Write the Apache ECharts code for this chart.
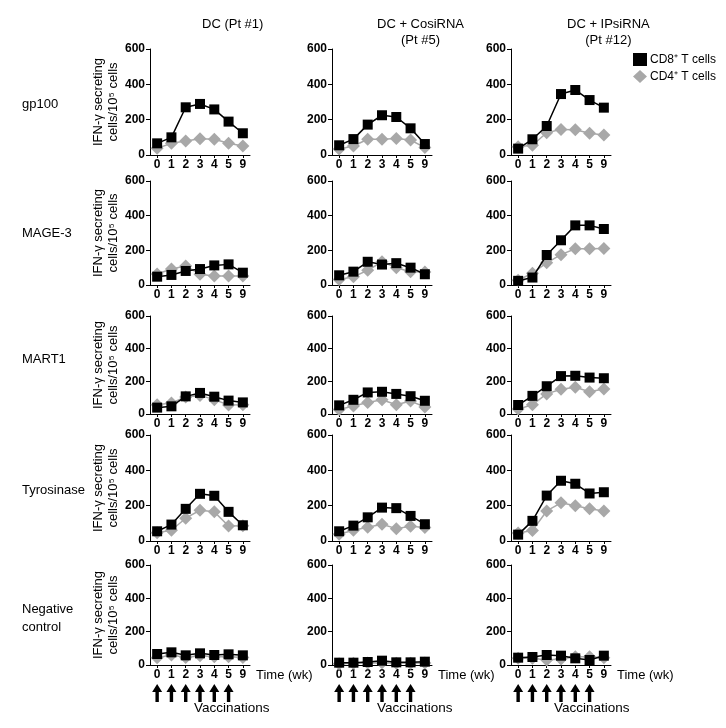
<!DOCTYPE html>
<html><head><meta charset="utf-8">
<script src="https://cdn.jsdelivr.net/npm/echarts@6/dist/echarts.min.js"></script>
<style>html,body{margin:0;padding:0;background:#fff}#c{width:726px;height:728px}</style>
</head><body><div id="c"></div>
<script>
// ---- data ----
const weeks = ['0','1','2','3','4','5','9'];
const vaccinationWeeks = ['0','1','2','3','4','5'];
const antigens = ['gp100','MAGE-3','MART1','Tyrosinase','Negative\ncontrol'];
const groups = ['DC (Pt #1)','DC + CosiRNA\n(Pt #5)','DC + IPsiRNA\n(Pt #12)'];
const yTicks = [0,200,400,600];
const seriesNames = ['CD8\u207A T cells','CD4\u207A T cells'];

// gp100
const gp100_DC_CD8 = [66,100,270,289,258,189,123];
const gp100_DC_CD4 = [38,66,79,92,89,66,51];
const gp100_Cosi_CD8 = [55,90,172,225,215,151,62];
const gp100_Cosi_CD4 = [34,51,89,89,94,85,42];
const gp100_IPsi_CD8 = [36,89,164,345,368,311,268];
const gp100_IPsi_CD4 = [47,55,126,145,143,123,113];
// MAGE-3
const mage3_DC_CD8 = [48,58,81,92,113,119,71];
const mage3_DC_CD4 = [63,92,110,62,52,52,52];
const mage3_Cosi_CD8 = [56,77,134,118,126,100,62];
const mage3_Cosi_CD4 = [32,47,85,134,100,77,75];
const mage3_IPsi_CD8 = [24,43,173,258,344,344,323];
const mage3_IPsi_CD4 = [28,68,128,175,209,209,211];
// MART1
const mart1_DC_CD8 = [39,47,108,129,106,82,71];
const mart1_DC_CD4 = [57,67,104,114,88,55,57];
const mart1_Cosi_CD8 = [53,87,132,136,123,109,81];
const mart1_Cosi_CD4 = [28,49,70,87,57,79,43];
const mart1_IPsi_CD8 = [55,111,170,232,234,223,219];
const mart1_IPsi_CD4 = [30,57,123,151,164,136,153];
// Tyrosinase
const tyr_DC_CD8 = [55,93,182,267,256,165,89];
const tyr_DC_CD4 = [47,61,129,174,165,85,87];
const tyr_Cosi_CD8 = [55,87,134,189,186,142,95];
const tyr_Cosi_CD4 = [38,61,78,95,70,83,76];
const tyr_IPsi_CD8 = [36,114,257,341,324,269,276];
const tyr_IPsi_CD4 = [45,59,170,216,199,182,170];
// Negative control
const neg_DC_CD8 = [66,76,58,70,60,64,58];
const neg_DC_CD4 = [44,60,45,55,50,50,45];
const neg_Cosi_CD8 = [14,14,18,26,16,16,20];
const neg_Cosi_CD4 = [8,10,12,14,10,10,12];
const neg_IPsi_CD8 = [44,48,60,56,40,30,56];
const neg_IPsi_CD4 = [40,40,30,36,50,50,44];

const panelData = [
  [[gp100_DC_CD8,gp100_DC_CD4],[gp100_Cosi_CD8,gp100_Cosi_CD4],[gp100_IPsi_CD8,gp100_IPsi_CD4]],
  [[mage3_DC_CD8,mage3_DC_CD4],[mage3_Cosi_CD8,mage3_Cosi_CD4],[mage3_IPsi_CD8,mage3_IPsi_CD4]],
  [[mart1_DC_CD8,mart1_DC_CD4],[mart1_Cosi_CD8,mart1_Cosi_CD4],[mart1_IPsi_CD8,mart1_IPsi_CD4]],
  [[tyr_DC_CD8,tyr_DC_CD4],[tyr_Cosi_CD8,tyr_Cosi_CD4],[tyr_IPsi_CD8,tyr_IPsi_CD4]],
  [[neg_DC_CD8,neg_DC_CD4],[neg_Cosi_CD8,neg_Cosi_CD4],[neg_IPsi_CD8,neg_IPsi_CD4]]
];

// ---- layout ----
const FONT = "'Liberation Sans', Arial, Helvetica, sans-serif";
const colLeft = [150, 332, 511];
const colW = 100;
const rowTop = [49, 181, 316, 435, 565];
const rowH = [106, 104, 98, 106, 100];
const titleX = [202, 377, 567];
const rowLabelY = [103, 232, 358, 489, 616];

const grid = [], xAxis = [], yAxis = [], series = [];
let gi = 0;
for (let r = 0; r < 5; r++) {
  for (let c = 0; c < 3; c++) {
    grid.push({left: colLeft[c], top: rowTop[r], width: colW, height: rowH[r], containLabel: false});
    const isLast = r === 4;
    xAxis.push({
      gridIndex: gi, type: 'category', data: weeks, boundaryGap: true,
      axisLine: {show: true, lineStyle: {color: '#000', width: 1}},
      axisTick: {show: true, alignWithLabel: true, length: 3, lineStyle: {color: '#000'}},
      axisLabel: {interval: 0, margin: 4, color: '#000', fontWeight: 'bold', fontSize: 12, fontFamily: FONT},
      splitLine: {show: false},
      name: isLast ? 'Time (wk)' : '',
      nameLocation: 'end', nameGap: 6,
      nameTextStyle: {fontSize: 13, color: '#000', fontFamily: FONT, verticalAlign: 'top', padding: [4,0,0,0]}
    });
    yAxis.push({
      gridIndex: gi, type: 'value', min: 0, max: 600, interval: 200,
      axisLine: {show: true, lineStyle: {color: '#000', width: 1}},
      axisTick: {show: true, length: 4, lineStyle: {color: '#000'}},
      axisLabel: {margin: 5, color: '#000', fontWeight: 'bold', fontSize: 12, fontFamily: FONT,
        formatter: v => yTicks.indexOf(v) >= 0 ? String(v) : ''},
      splitLine: {show: false},
      name: c === 0 ? 'IFN-\u03B3 secreting\ncells/10\u2075 cells' : '',
      nameLocation: 'middle', nameRotate: 90, nameGap: 28,
      nameTextStyle: {fontSize: 13, lineHeight: 15, color: '#000', fontFamily: FONT}
    });
    const [cd8, cd4] = panelData[r][c];
    series.push({
      name: seriesNames[1], type: 'line', xAxisIndex: gi, yAxisIndex: gi,
      data: cd4, symbol: 'diamond', symbolSize: 13, z: 2,
      itemStyle: {color: '#a8a8a8'}, lineStyle: {color: '#a8a8a8', width: 1.5}
    });
    series.push({
      name: seriesNames[0], type: 'line', xAxisIndex: gi, yAxisIndex: gi,
      data: cd8, symbol: 'rect', symbolSize: 10, z: 3,
      itemStyle: {color: '#000'}, lineStyle: {color: '#000', width: 1.5}
    });
    gi++;
  }
}
// vaccination arrows
const arrowPath = 'path://M5,0 L10,8 L6.7,8 L6.7,18 L3.3,18 L3.3,8 L0,8 Z';
for (let c = 0; c < 3; c++) {
  grid.push({left: colLeft[c], top: 684, width: colW, height: 18, containLabel: false});
  xAxis.push({gridIndex: gi, type: 'category', data: weeks, boundaryGap: true, show: false});
  yAxis.push({gridIndex: gi, type: 'value', min: -1, max: 1, show: false});
  series.push({
    name: 'Vaccinations', type: 'scatter', xAxisIndex: gi, yAxisIndex: gi,
    data: vaccinationWeeks.map(w => [w, 0]), symbol: arrowPath, symbolSize: [10, 18],
    itemStyle: {color: '#000', opacity: 1}, silent: true
  });
  gi++;
}

const graphic = [];
groups.forEach((g, c) => {
  graphic.push({type: 'text', left: titleX[c], top: 16, style: {
    text: g, x: 0, y: 0, textAlign: 'center', font: '13px ' + FONT, fill: '#000', lineHeight: 16}});
});
antigens.forEach((a, r) => {
  const lines = a.split('\n').length;
  graphic.push({type: 'text', left: 22, top: rowLabelY[r] - lines * 8, style: {
    text: a, font: '13px ' + FONT, fill: '#000', lineHeight: 18}});
});
const vaccX = [194, 377, 554];
vaccX.forEach(x => {
  graphic.push({type: 'text', left: x, top: 701, style: {
    text: 'Vaccinations', textAlign: 'center', font: '13.5px ' + FONT, fill: '#000'}});
});

const chart = echarts.init(document.getElementById('c'), null, {renderer: 'canvas'});
chart.setOption({
  animation: false,
  textStyle: {fontFamily: FONT},
  legend: {
    orient: 'vertical', left: 633, top: 53, itemWidth: 14, itemHeight: 13, itemGap: 4, padding: 0,
    textStyle: {fontSize: 12, color: '#000', fontFamily: FONT, padding: [0,0,0,-2]},
    data: [{name: seriesNames[0], icon: 'rect'}, {name: seriesNames[1], icon: 'diamond'}]
  },
  grid, xAxis, yAxis, series, graphic
});
</script>
</body></html>
